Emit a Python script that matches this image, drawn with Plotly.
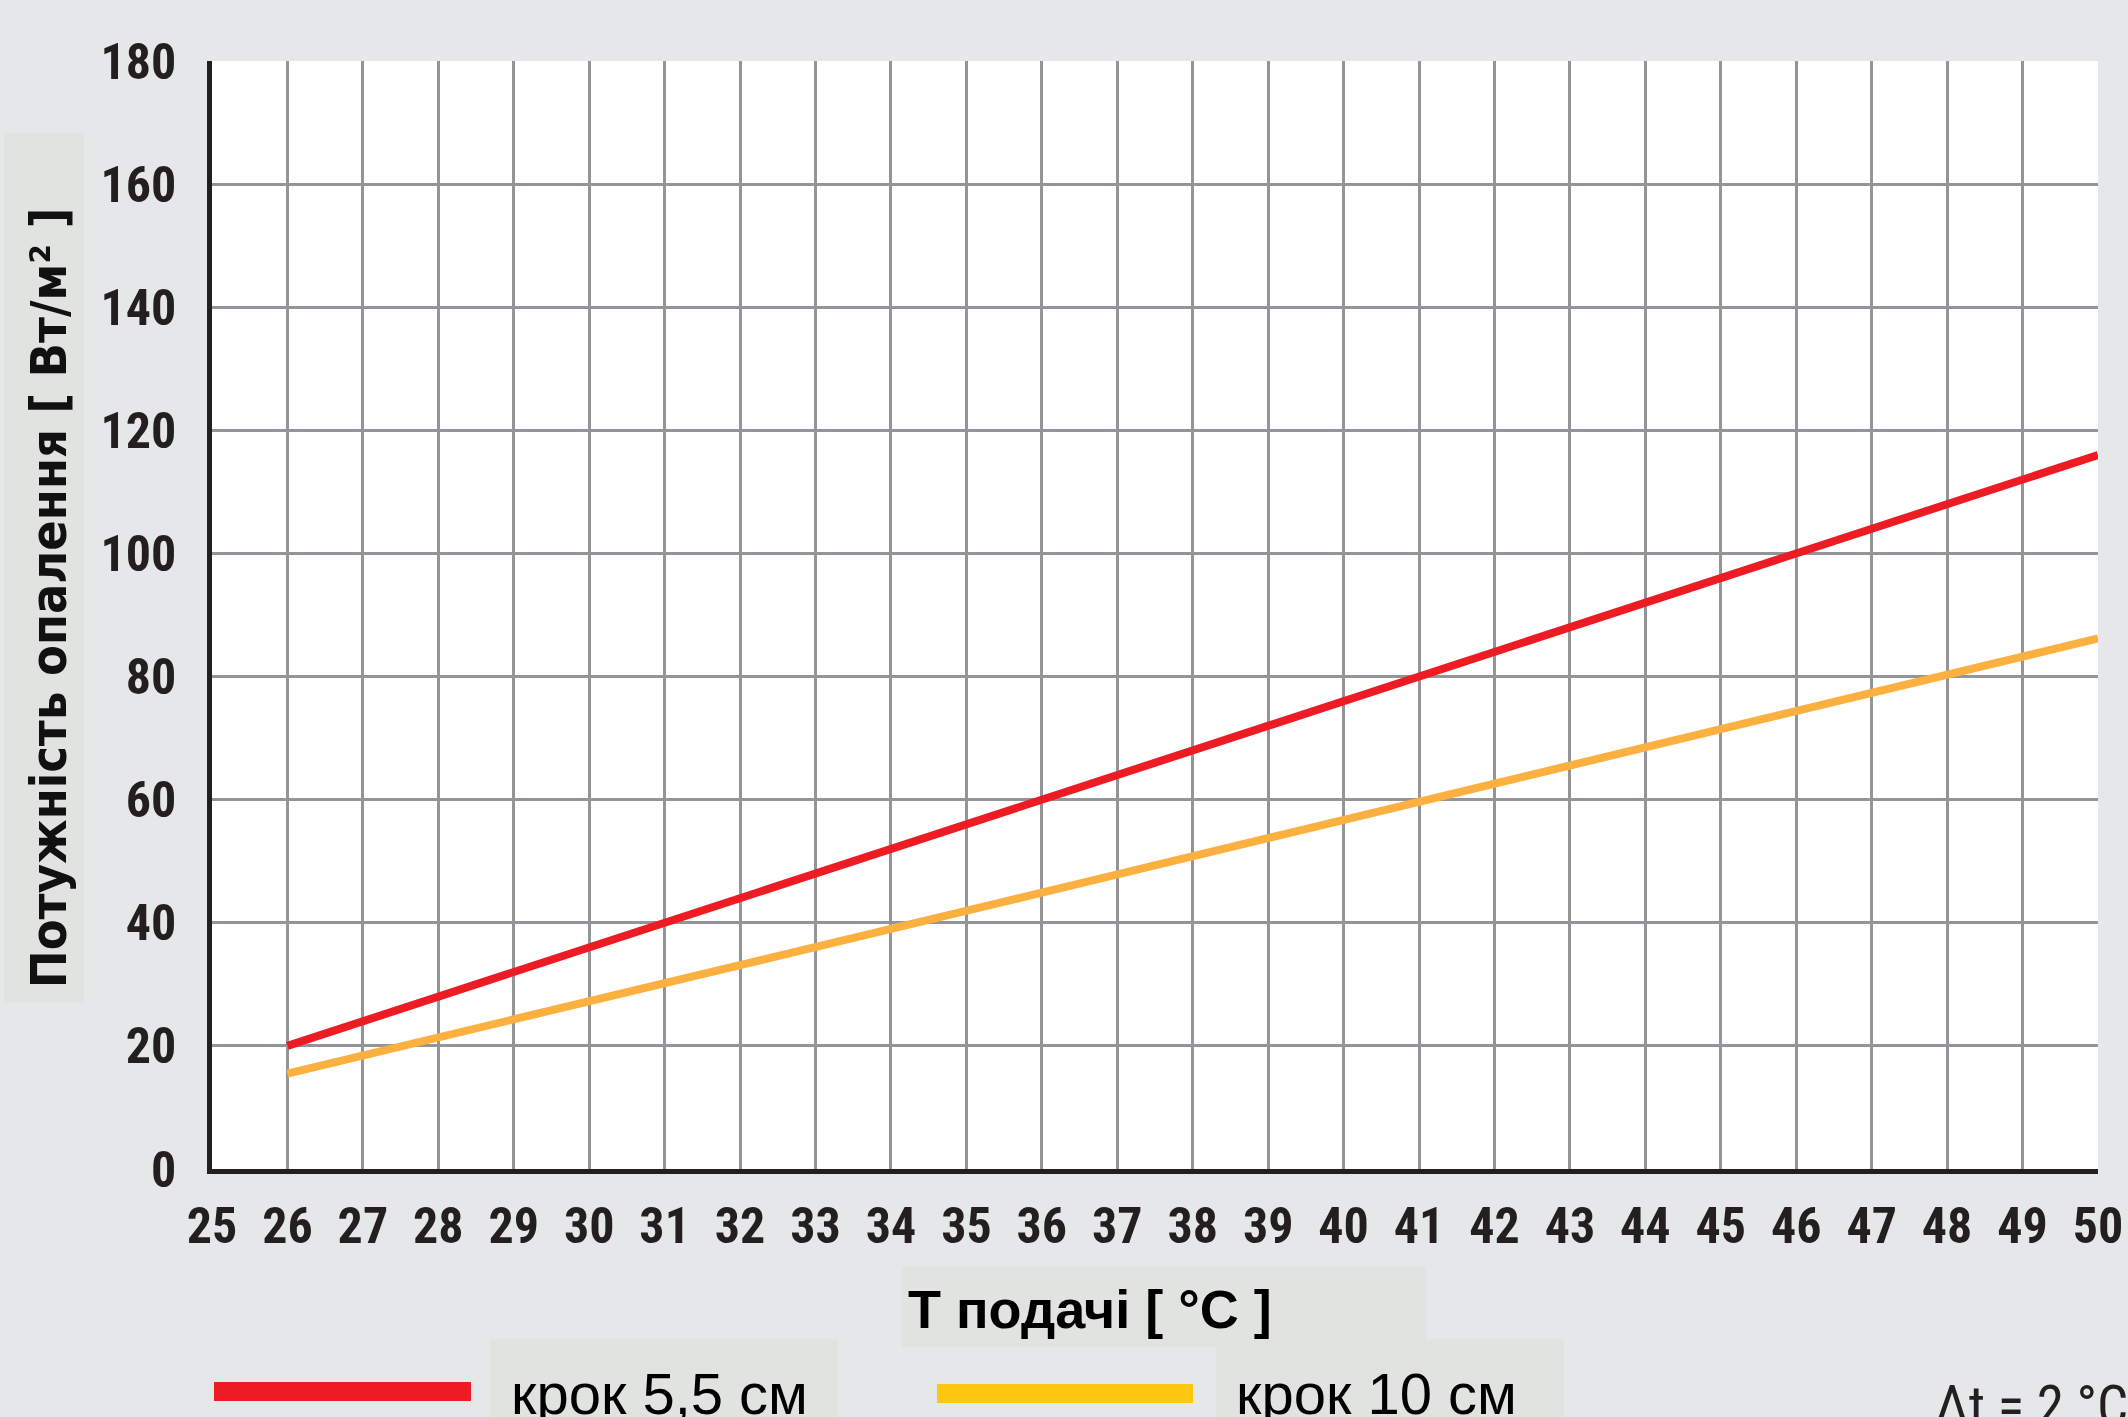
import plotly.graph_objects as go

# ---- data ----
t_supply = [26, 28, 30, 32, 34, 36, 38, 40, 42, 44, 46, 48, 50]
power_55 = [20, 28, 36, 44, 52, 60, 68, 76, 84, 92, 100, 108, 116]
power_10 = [15.5, 21.3, 27.2, 33.1, 39.0, 44.9, 50.8, 56.7, 62.6, 68.5, 74.4, 80.3, 86.2]
series_names = ["крок 5,5 см", "крок 10 см"]
x_ticks = list(range(25, 51))
y_ticks = list(range(0, 181, 20))

W, H = 2128, 1417
L, R, T, B = 212, 2098, 61, 1169   # plot area in pixels

def px(x):
    return (x - L) / (R - L)

def py(y):
    return (B - y) / (B - T)

BG = "#e6e7e9"
BOX = "#e1e3e0"
RED = "#ed1c24"
ORANGE = "#fbb040"
YELLOW = "#fec70f"
GRID = "#939598"
NARROW = "Roboto Condensed, DejaVu Sans Condensed, Liberation Sans Narrow, Liberation Sans"
TITLE = "DejaVu Sans Condensed, Roboto Condensed, Liberation Sans"
ARIAL = "Liberation Sans, Arial, Helvetica"

fig = go.Figure()
fig.add_trace(go.Scatter(x=t_supply, y=power_55, mode="lines", name=series_names[0],
                         line=dict(color=RED, width=8), showlegend=False))
fig.add_trace(go.Scatter(x=t_supply, y=power_10, mode="lines", name=series_names[1],
                         line=dict(color=ORANGE, width=8), showlegend=False))

shapes = []
def rect(x0, y0, x1, y1, color, layer="below"):
    shapes.append(dict(type="rect", xref="paper", yref="paper",
                       x0=px(x0), x1=px(x1), y0=py(y1), y1=py(y0),
                       fillcolor=color, line=dict(width=0), layer=layer))

rect(4, 133, 84, 1002, BOX)          # y title box
rect(902, 1266, 1426, 1347, BOX)     # x title box
rect(490, 1339, 838, 1430, BOX)      # legend box 1
rect(1216, 1339, 1564, 1430, BOX)    # legend box 2
rect(214, 1382, 471, 1401, RED, "above")
rect(937, 1384, 1193, 1403, YELLOW, "above")

annotations = [
    dict(text="Потужність опалення [ Вт/м² ]", textangle=-90, x=px(49), y=py(598),
         xref="paper", yref="paper", showarrow=False, xanchor="center", yanchor="middle",
         font=dict(family=TITLE, size=50, color="#111111", weight="bold")),
    dict(text="Т подачі [ °C ]", x=px(1090), y=py(1309),
         xref="paper", yref="paper", showarrow=False, xanchor="center", yanchor="middle",
         font=dict(family=ARIAL, size=54, color="#000000", weight="bold")),
    dict(text=series_names[0], x=px(509), y=py(1393),
         xref="paper", yref="paper", showarrow=False, xanchor="left", yanchor="middle",
         font=dict(family=ARIAL, size=58, color="#000000")),
    dict(text=series_names[1], x=px(1234), y=py(1393),
         xref="paper", yref="paper", showarrow=False, xanchor="left", yanchor="middle",
         font=dict(family=ARIAL, size=58, color="#000000")),
    dict(text="Δt = 2 °C", x=px(1933), y=py(1406),
         xref="paper", yref="paper", showarrow=False, xanchor="left", yanchor="middle",
         font=dict(family=NARROW, size=55, color="#231f20")),
]

fig.update_layout(
    width=W, height=H,
    margin=dict(l=L, r=W - R, t=T, b=H - B, pad=0, autoexpand=False),
    paper_bgcolor=BG, plot_bgcolor="#ffffff",
    shapes=shapes, annotations=annotations,
    showlegend=False,
)
fig.update_xaxes(range=[25, 50], tickvals=x_ticks, ticktext=[str(v) for v in x_ticks],
                 showgrid=True, gridcolor=GRID, gridwidth=2.5, zeroline=False,
                 showline=True, linecolor="#231f20", linewidth=4.5, mirror=False,
                 ticks="", ticklabelstandoff=9, ticklabeloverflow="allow", automargin=False,
                 tickfont=dict(family=NARROW, size=50, color="#231f20", weight="bold"))
fig.update_yaxes(range=[0, 180], tickvals=y_ticks, ticktext=[str(v) for v in y_ticks],
                 showgrid=True, gridcolor=GRID, gridwidth=2.5, zeroline=False,
                 showline=True, linecolor="#231f20", linewidth=4.5, mirror=False,
                 ticks="", ticklabelstandoff=21, ticklabeloverflow="allow", automargin=False,
                 tickfont=dict(family=NARROW, size=50, color="#231f20", weight="bold"))

fig.write_html("out.html", config={"displayModeBar": False},
               post_script="document.body.style.margin='0';document.body.style.background='%s';" % BG)
